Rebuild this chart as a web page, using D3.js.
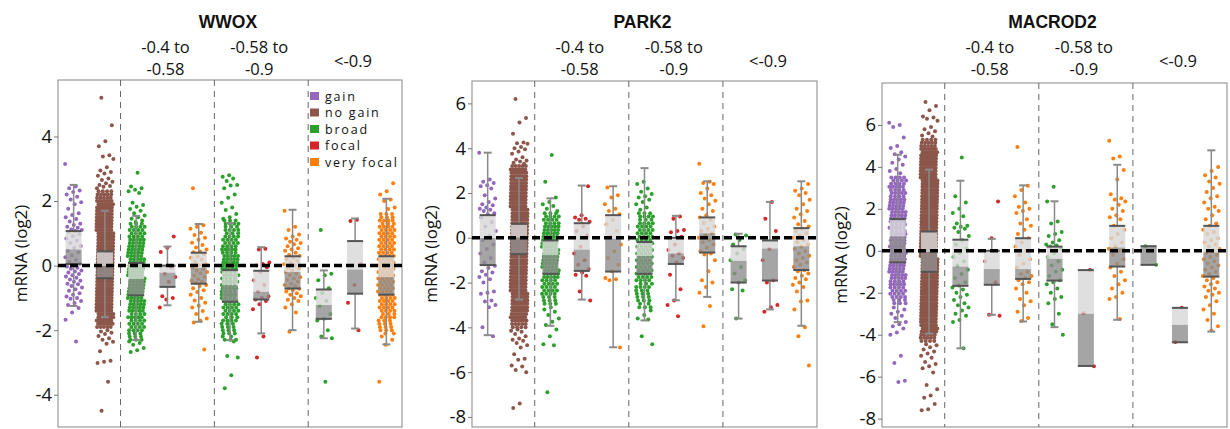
<!DOCTYPE html>
<html>
<head>
<meta charset="utf-8">
<script src="https://cdn.jsdelivr.net/npm/d3@7"></script>
<style>
  body { margin: 0; background: #fff; }
  text { font-family: "Open Sans", sans-serif; fill: #111; }
</style>
</head>
<body>
<script>
// categories along each x axis
const categories = ["gain", "no gain", "broad", "focal", "very focal", "broad", "focal", "very focal", "broad", "focal", "very focal"];
const legendLabels = ["gain", "no gain", "broad", "focal", "very focal"];
const legendColors = ["#9467bd", "#8c564b", "#2ca02c", "#d62728", "#ff7f0e"];
const groupLabels = [["-0.4 to", "-0.58"], ["-0.58 to", "-0.9"], ["<-0.9"]];
const genes = ["WWOX", "PARK2", "MACROD2"];

// y ranges and ticks
const wwoxDomain = [-5, 5.75];
const park2Domain = [-8.45, 7];
const macrod2Domain = [-8.4, 8];
const wwoxTicks = [-4, -2, 0, 2, 4];
const park2Ticks = [-8, -6, -4, -2, 0, 2, 4, 6];
const macrod2Ticks = [-8, -6, -4, -2, 0, 2, 4, 6];

// box stats: [lower whisker, q1, median, q3, upper whisker]
const wwoxBoxes = [
  [-1.25, 0.05, 0.5, 1.07, 2.5], [-1.6, -0.39, -0.02, 0.44, 1.7],
  [-2.3, -0.92, -0.42, 0.08, 1.54], [-1.23, -0.66, -0.22, 0.0, 0.59], [-1.74, -0.56, -0.07, 0.4, 1.29],
  [-2.31, -1.12, -0.61, -0.14, 1.32], [-2.1, -1.05, -0.81, -0.16, 0.57], [-2.0, -0.71, -0.2, 0.29, 1.73],
  [-2.25, -1.65, -1.22, -0.74, -0.15], [-1.95, -0.87, -0.12, 0.76, 1.46], [-2.44, -0.9, -0.36, 0.29, 2.07]
];
const park2Boxes = [
  [-4.35, -1.22, -0.01, 1.01, 3.8], [-2.76, -0.73, 0.0, 0.62, 2.67],
  [-3.93, -1.61, -0.78, -0.12, 1.76], [-2.76, -1.48, -0.53, 0.65, 2.33], [-4.89, -1.51, -0.04, 1.01, 2.3],
  [-3.69, -1.61, -0.82, -0.19, 3.11], [-2.79, -1.17, -0.7, 0.0, 0.98], [-2.64, -0.66, 0.2, 0.91, 2.52],
  [-3.61, -2.0, -1.03, -0.38, 0.18], [-3.2, -1.91, -0.48, -0.12, 1.6], [-3.93, -1.44, -0.38, 0.43, 2.52]
];
const macrod2Boxes = [
  [-3.4, -0.55, 0.68, 1.51, 4.58], [-3.95, -1.0, -0.06, 0.92, 3.87],
  [-4.65, -1.67, -0.75, 0.53, 3.34], [-3.05, -1.62, -0.87, 0.0, 0.57], [-3.37, -1.34, -0.87, 0.6, 3.12],
  [-3.64, -1.42, -0.38, 0.2, 2.36], [-5.49, -5.49, -3.0, -0.92, -0.92], [-3.29, -0.75, 0.16, 1.19, 4.1],
  [-0.67, -0.67, 0.18, 0.22, 0.22], [-4.36, -4.36, -3.53, -2.72, -2.72], [-3.85, -1.23, -0.08, 1.19, 4.79]
];

// individual sample values (log2 mRNA) per category
const wwoxPoints = [
  [3.15, 2.45, 2.4, 2.33, 2.28, 2.2, 2.13, 2.05, 1.96, 1.9, 1.76, 1.62, 1.57, 1.5, 1.44, 1.37, 1.3, 1.26, 1.2, 1.17, 1.12, 1.1, 1.07, 1.04, 0.98, 0.92, 0.84, 0.78, 0.7, 0.61, 0.55, 0.46, 0.41, 0.32, 0.26, 0.17, 0.11, 0.06, 0.02, -0.03, -0.07, -0.1, -0.15, -0.18, -0.21, -0.26, -0.3, -0.34, -0.38, -0.43, -0.47, -0.5, -0.56, -0.58, -0.63, -0.68, -0.73, -0.78, -0.86, -0.9, -0.96, -1.0, -1.03, -1.1, -1.16, -1.22, -1.31, -1.45, -1.68, -2.35],
  [5.2, 4.35, 3.85, 3.7, 3.42, 3.38, 3.3, 3.05, 2.95, 2.9, 2.85, 2.78, 2.7, 2.65, 2.6, 2.55, 2.5, 2.47, 2.44, 2.4, -2.0, -2.04, -2.08, -2.12, -2.18, -2.25, -2.3, -2.36, -2.42, -2.65, -2.95, -2.98, -3.02, -3.6, -4.5],
  [2.88, 2.45, 2.4, 2.35, 2.3, 2.25, 1.95, 1.88, 1.82, 1.75, 1.7, 1.62, 1.55, 1.5, 1.45, 1.4, 1.35, -2.35, -2.4, -2.45, -2.55, -2.62, -2.68],
  [0.9, 0.55, 0.42, -0.05, -0.25, -0.35, -0.5, -0.95, -1.0, -1.05, -1.3],
  [2.4, 1.25, 1.2, 1.14, 1.02, 0.95, 0.86, 0.8, 0.71, 0.64, 0.56, 0.5, 0.44, 0.41, 0.35, 0.28, 0.24, 0.19, 0.12, 0.05, 0.01, -0.06, -0.1, -0.16, -0.2, -0.24, -0.31, -0.35, -0.42, -0.46, -0.5, -0.54, -0.6, -0.63, -0.7, -0.76, -0.82, -0.9, -1.0, -1.08, -1.15, -1.24, -1.3, -1.41, -1.5, -1.64, -1.7, -1.76, -2.6],
  [2.8, 2.75, 2.7, 2.62, 2.5, 2.48, 2.4, 2.2, 2.1, 1.95, 1.8, 1.72, 1.6, 1.5, 1.45, -2.35, -2.8, -2.85, -3.4, -3.8],
  [0.52, 0.5, 0.1, 0.05, 0.0, -0.05, -0.2, -0.45, -0.6, -0.8, -0.95, -1.0, -1.05, -1.1, -1.2, -1.35, -2.2, -2.85],
  [1.7, 1.2, 1.1, 0.96, 0.9, 0.84, 0.8, 0.74, 0.7, 0.66, 0.6, 0.54, 0.5, 0.46, 0.4, 0.33, 0.3, 0.24, 0.2, 0.14, 0.1, 0.04, 0.0, -0.06, -0.1, -0.16, -0.2, -0.25, -0.3, -0.36, -0.4, -0.44, -0.5, -0.56, -0.6, -0.64, -0.7, -0.72, -0.76, -0.8, -0.86, -0.9, -0.95, -1.0, -1.06, -1.1, -1.2, -1.3, -1.45, -2.05],
  [1.1, -0.25, -0.3, -0.45, -0.7, -0.85, -1.0, -1.1, -1.25, -1.5, -1.65, -1.7, -2.0, -2.2, -2.25, -3.6],
  [1.42, 1.38, 0.05, -0.6, -1.15, -2.0],
  [2.55, 2.3, 2.2, 2.05, 2.0, 1.8, 1.75, -2.2, -2.3, -2.45, -3.6]
];
const park2Points = [
  [3.8, 2.6, 2.5, 2.45, 2.35, 2.3, 2.2, 1.9, 1.75, 1.6, 1.5, 1.45, 1.35, 1.3, 1.25, 1.2, 1.1, 1.05, 0.9, 0.7, 0.5, 0.3, 0.1, -0.1, -0.3, -0.5, -0.7, -0.9, -1.1, -1.25, -1.35, -1.5, -1.55, -1.65, -1.75, -1.85, -2.0, -2.4, -2.45, -2.5, -2.8, -2.85, -3.0, -3.1, -4.0, -4.4],
  [6.2, 5.35, 5.15, 4.65, 4.25, 4.22, 4.2, 4.05, 4.0, 3.95, 3.85, 3.75, 3.6, 3.5, 3.45, 3.4, 3.35, 3.3, -4.1, -4.15, -4.2, -4.3, -4.4, -4.5, -4.55, -4.6, -4.7, -4.8, -4.9, -5.2, -5.4, -5.45, -5.7, -5.75, -5.9, -6.0, -7.4, -7.6],
  [3.7, 2.5, 1.8, 1.6, 1.5, 1.42, 1.3, 1.2, -3.1, -3.2, -3.3, -3.45, -3.6, -3.75, -3.9, -4.1, -4.4, -4.75, -4.8, -6.9],
  [2.3, 1.0, 0.9, 0.85, 0.8, 0.72, 0.5, 0.3, 0.1, -0.4, -0.7, -1.0, -1.2, -1.4, -1.55, -1.65, -1.7, -2.4, -2.8],
  [2.25, 1.9, 1.8, 1.5, 1.3, 1.2, 1.05, 0.8, 0.6, 0.3, 0.05, -0.3, -0.6, -0.9, -1.2, -1.5, -1.8, -1.85, -1.9, -4.9],
  [2.5, 2.4, 2.2, 2.05, 1.95, 1.85, 1.8, 1.7, 1.6, 1.5, 1.35, 1.25, -3.25, -3.45, -3.6, -3.65, -4.4, -4.75],
  [0.95, 0.85, 0.35, 0.3, 0.25, 0.05, -0.3, -0.55, -0.7, -0.8, -0.9, -1.1, -1.65, -2.3, -2.8, -3.0, -3.5],
  [3.3, 2.5, 2.45, 2.4, 2.2, 2.0, 1.9, 1.75, 1.65, 1.5, 1.3, 1.2, 1.0, 0.9, 0.8, 0.65, 0.5, 0.4, 0.3, 0.2, 0.1, 0.0, -0.1, -0.2, -0.3, -0.45, -0.6, -0.7, -0.75, -1.0, -1.5, -1.9, -2.0, -2.2, -2.45, -3.05, -3.95],
  [0.15, 0.1, -0.1, -0.3, -0.5, -0.7, -1.0, -1.3, -1.6, -1.9, -2.0, -2.3, -2.35, -3.6],
  [1.6, 0.85, 0.3, -0.5, -1.0, -1.9, -2.0, -3.0, -3.1, -3.3],
  [2.4, 2.2, 2.1, 2.0, 1.9, 1.7, 1.5, 1.3, 1.2, 1.05, 0.9, 0.75, 0.6, 0.5, 0.4, 0.3, 0.2, 0.1, 0.0, -0.1, -0.2, -0.3, -0.4, -0.5, -0.6, -0.7, -0.8, -0.9, -1.0, -1.1, -1.2, -1.3, -1.45, -1.5, -1.6, -1.7, -1.8, -1.85, -2.0, -2.1, -2.2, -2.4, -2.8, -2.85, -3.2, -4.0, -4.4, -5.7]
];
const macrod2Points = [
  [6.1, 6.0, 5.9, 5.4, 5.0, 4.9, 4.7, 4.6, 4.5, 4.35, 4.2, 4.1, 3.9, 3.8, 3.7, -2.7, -2.8, -2.9, -3.0, -3.1, -3.2, -3.4, -3.5, -3.6, -3.7, -3.9, -4.0, -5.0, -5.35, -6.2, -6.25],
  [7.1, 6.9, 6.7, 6.4, 6.35, 6.3, 6.2, 5.9, 5.8, 5.7, 5.6, 5.5, 5.45, -4.45, -4.5, -4.6, -4.7, -4.8, -4.9, -5.0, -5.1, -5.3, -5.4, -5.5, -5.6, -5.8, -6.4, -6.6, -6.9, -7.0, -7.3, -7.55, -7.6],
  [4.45, 2.6, 2.3, 2.0, 1.8, 1.65, 1.3, 1.2, 1.15, 1.1, 1.05, 0.9, 0.7, 0.5, 0.3, 0.1, -0.1, -0.3, -0.5, -0.7, -0.9, -1.1, -1.3, -1.5, -1.65, -1.75, -1.85, -2.0, -2.1, -2.2, -2.35, -2.5, -2.6, -2.7, -2.85, -3.0, -3.1, -3.3, -3.4, -4.65],
  [2.35, 0.6, -0.5, -1.5, -3.05, -3.1],
  [4.95, 3.1, 2.9, 2.6, 2.3, 2.1, 2.0, 1.9, 1.8, 1.5, 1.3, 1.2, 1.0, 0.8, 0.6, 0.4, 0.2, 0.0, -0.2, -0.4, -0.6, -0.8, -1.0, -1.1, -1.2, -1.3, -1.4, -1.5, -1.6, -1.8, -2.0, -2.3, -2.4, -2.6, -2.9, -3.2, -3.35],
  [3.05, 2.35, 1.4, 1.3, 0.9, 0.8, 0.7, 0.5, 0.4, 0.3, 0.25, 0.2, 0.1, -0.1, -0.3, -0.5, -0.7, -0.9, -1.0, -1.2, -1.4, -1.5, -1.6, -1.8, -2.0, -2.2, -2.3, -2.5, -3.0, -3.5, -4.0],
  [-0.92, -2.98, -5.5],
  [5.25, 4.5, 4.4, 3.85, 3.4, 2.7, 2.5, 2.45, 2.35, 2.2, 2.0, 1.9, 1.7, 1.6, 1.5, 1.2, 1.0, 0.8, 0.6, 0.4, 0.2, 0.1, 0.0, -0.2, -0.4, -0.6, -0.8, -1.0, -1.2, -1.4, -1.6, -1.8, -2.0, -2.2, -2.3, -3.25],
  [0.22, -0.67],
  [-2.72, -4.35],
  [4.0, 3.8, 3.6, 3.5, 3.3, 3.2, 3.0, 2.8, 2.6, 2.5, 2.3, 2.1, 2.0, 1.9, 1.7, 1.5, 1.3, 1.2, 1.0, 0.9, 0.8, 0.6, 0.5, 0.4, 0.3, 0.2, 0.1, 0.0, -0.1, -0.2, -0.3, -0.4, -0.5, -0.6, -0.7, -0.8, -0.9, -1.0, -1.1, -1.2, -1.3, -1.4, -1.5, -1.6, -1.7, -1.8, -1.9, -2.0, -2.1, -2.2, -2.4, -2.6, -2.8, -3.0, -3.3, -3.6, -3.8]
];

// dense cores, read as [value, number of samples at that level]
const wwoxDense = [
  [],
  [[2.3,4],[2.2,5],[2.1,5],[2.0,7],[1.9,7],[1.8,8],[1.7,8],[1.6,8],[1.5,8],[1.4,8],[1.3,8],[1.2,8],[1.1,8],[1.0,8],[0.9,8],[0.8,8],[0.7,8],[0.6,8],[0.5,8],[0.4,8],[0.3,8],[0.2,8],[0.1,8],[0.0,8],[-0.1,8],[-0.2,8],[-0.3,8],[-0.4,8],[-0.5,8],[-0.6,8],[-0.7,8],[-0.8,8],[-0.9,8],[-1.0,8],[-1.1,8],[-1.2,8],[-1.3,8],[-1.4,8],[-1.5,8],[-1.6,8],[-1.7,7],[-1.8,7],[-1.9,5]],
  [[1.3,3],[1.2,4],[1.1,4],[1.0,4],[0.9,4],[0.8,5],[0.7,5],[0.6,5],[0.5,5],[0.4,5],[0.3,5],[0.2,5],[0.1,5],[0.0,5],[-0.1,5],[-0.2,5],[-0.3,5],[-0.4,5],[-0.5,5],[-0.6,5],[-0.7,5],[-0.8,5],[-0.9,5],[-1.0,5],[-1.1,5],[-1.2,5],[-1.3,5],[-1.4,5],[-1.5,4],[-1.6,5],[-1.7,4],[-1.8,4],[-1.9,4],[-2.0,4],[-2.1,3],[-2.2,3],[-2.3,3]],
  [], [],
  [[1.4,3],[1.3,4],[1.2,3],[1.1,4],[1.0,3],[0.9,4],[0.8,4],[0.7,4],[0.6,4],[0.5,5],[0.4,4],[0.3,5],[0.2,5],[0.1,5],[0.0,5],[-0.1,5],[-0.2,4],[-0.3,5],[-0.4,4],[-0.5,5],[-0.6,4],[-0.7,5],[-0.8,4],[-0.9,5],[-1.0,4],[-1.1,4],[-1.2,4],[-1.3,4],[-1.4,4],[-1.5,4],[-1.6,3],[-1.7,4],[-1.8,3],[-1.9,3],[-2.0,3],[-2.1,3],[-2.2,2],[-2.3,3]],
  [], [], [], [],
  [[1.6,3],[1.5,3],[1.4,4],[1.3,3],[1.2,4],[1.1,4],[1.0,4],[0.9,4],[0.8,4],[0.7,4],[0.6,4],[0.5,4],[0.4,4],[0.3,4],[0.2,4],[0.1,4],[0.0,4],[-0.1,4],[-0.2,4],[-0.3,4],[-0.4,4],[-0.5,4],[-0.6,4],[-0.7,4],[-0.8,4],[-0.9,4],[-1.0,4],[-1.1,4],[-1.2,4],[-1.3,4],[-1.4,4],[-1.5,3],[-1.6,4],[-1.7,3],[-1.8,3],[-1.9,3],[-2.0,3],[-2.1,2]]
];
const park2Dense = [
  [],
  [[3.2,5],[3.05,7],[2.9,8],[2.75,8],[2.6,8],[2.45,8],[2.3,8],[2.15,8],[2.0,8],[1.85,8],[1.7,8],[1.55,8],[1.4,8],[1.25,8],[1.1,8],[0.95,8],[0.8,8],[0.65,8],[0.5,8],[0.35,8],[0.2,8],[0.05,8],[-0.1,8],[-0.25,8],[-0.4,8],[-0.55,8],[-0.7,8],[-0.85,8],[-1.0,8],[-1.15,8],[-1.3,8],[-1.45,8],[-1.6,8],[-1.75,8],[-1.9,8],[-2.05,8],[-2.2,8],[-2.35,8],[-2.5,8],[-2.65,8],[-2.8,8],[-2.95,8],[-3.1,8],[-3.25,8],[-3.4,7],[-3.55,7],[-3.7,6],[-3.85,5],[-4.0,4]],
  [[1.1,3],[0.95,4],[0.8,4],[0.65,4],[0.5,5],[0.35,5],[0.2,5],[0.05,5],[-0.1,5],[-0.25,5],[-0.4,5],[-0.55,5],[-0.7,5],[-0.85,5],[-1.0,5],[-1.15,5],[-1.3,5],[-1.45,5],[-1.6,5],[-1.75,5],[-1.9,4],[-2.05,4],[-2.2,4],[-2.35,4],[-2.5,4],[-2.65,3],[-2.8,3],[-2.95,3]],
  [], [],
  [[1.1,3],[0.95,4],[0.8,3],[0.65,4],[0.5,4],[0.35,4],[0.2,4],[0.05,4],[-0.1,4],[-0.25,4],[-0.4,4],[-0.55,4],[-0.7,4],[-0.85,4],[-1.0,4],[-1.15,4],[-1.3,4],[-1.45,4],[-1.6,4],[-1.75,4],[-1.9,4],[-2.05,3],[-2.2,4],[-2.35,3],[-2.5,3],[-2.65,3],[-2.8,3],[-2.95,2],[-3.1,3]],
  [], [], [], [], []
];
const macrod2Dense = [
  [[3.5,4],[3.35,4],[3.2,4],[3.05,5],[2.9,4],[2.75,5],[2.6,4],[2.45,5],[2.3,5],[2.15,5],[2.0,5],[1.85,5],[1.7,5],[1.55,5],[1.4,5],[1.25,4],[1.1,5],[0.95,4],[0.8,5],[0.65,4],[0.5,5],[0.35,4],[0.2,5],[0.05,4],[-0.1,5],[-0.25,4],[-0.4,5],[-0.55,5],[-0.7,5],[-0.85,5],[-1.0,5],[-1.15,5],[-1.3,5],[-1.45,4],[-1.6,5],[-1.75,4],[-1.9,4],[-2.05,4],[-2.2,4],[-2.35,3],[-2.5,3]],
  [[5.3,4],[5.15,5],[5.0,5],[4.85,7],[4.7,7],[4.55,8],[4.4,8],[4.25,8],[4.1,8],[3.95,8],[3.8,8],[3.65,8],[3.5,8],[3.35,8],[3.2,8],[3.05,8],[2.9,8],[2.75,8],[2.6,8],[2.45,8],[2.3,8],[2.15,8],[2.0,8],[1.85,8],[1.7,8],[1.55,8],[1.4,8],[1.25,8],[1.1,8],[0.95,8],[0.8,8],[0.65,8],[0.5,8],[0.35,8],[0.2,8],[0.05,8],[-0.1,8],[-0.25,8],[-0.4,8],[-0.55,8],[-0.7,8],[-0.85,8],[-1.0,8],[-1.15,8],[-1.3,8],[-1.45,8],[-1.6,8],[-1.75,8],[-1.9,8],[-2.05,8],[-2.2,8],[-2.35,8],[-2.5,8],[-2.65,8],[-2.8,8],[-2.95,8],[-3.1,8],[-3.25,8],[-3.4,8],[-3.55,7],[-3.7,7],[-3.85,7],[-4.0,5],[-4.15,5],[-4.3,4]],
  [], [], [], [], [], [], [], [], []
];

// ---- layout ----
const W = 1230, H = 429;
const bottom = 427;
const panels = [
  { gene: genes[0], left: 58, right: 402, top: 80, yLabelX: 21, domain: wwoxDomain, ticks: wwoxTicks, boxes: wwoxBoxes, points: wwoxPoints, dense: wwoxDense, legend: true },
  { gene: genes[1], left: 472, right: 817, top: 81, yLabelX: 431, domain: park2Domain, ticks: park2Ticks, boxes: park2Boxes, points: park2Points, dense: park2Dense },
  { gene: genes[2], left: 882, right: 1227, top: 83, yLabelX: 841, domain: macrod2Domain, ticks: macrod2Ticks, boxes: macrod2Boxes, points: macrod2Points, dense: macrod2Dense }
];
const catColor = i => legendColors[i < 2 ? i : 2 + ((i - 2) % 3)];

const svg = d3.select("body").append("svg")
  .attr("width", W)
  .attr("height", H);

panels.forEach(p => {
  const x = d3.scaleBand().domain(d3.range(categories.length)).range([p.left, p.right]);
  const cx = i => x(i) + x.bandwidth() / 2;
  const y = d3.scaleLinear().domain(p.domain).range([bottom, p.top]);
  const jw = 8.5, boxW = 16, capW = 8;
  const g = svg.append("g");

  // frame
  g.append("rect")
    .attr("x", p.left).attr("y", p.top)
    .attr("width", p.right - p.left).attr("height", bottom - p.top)
    .attr("fill", "none").attr("stroke", "#9a9a9a").attr("stroke-width", 1.2);

  // group separators
  g.selectAll("line.sep").data([2, 5, 8]).join("line")
    .attr("class", "sep")
    .attr("x1", d => x(d)).attr("x2", d => x(d))
    .attr("y1", p.top).attr("y2", bottom)
    .attr("stroke", "#666").attr("stroke-width", 1)
    .attr("stroke-dasharray", "6,5");

  // points
  const dots = [];
  p.points.forEach((vals, ci) => vals.forEach((v, i) => {
    dots.push({ ci, v, dx: ((i * 0.618034 + ci * 0.29) % 1) * 2 - 1 });
  }));
  p.dense.forEach((rows, ci) => rows.forEach(([v, n], ri) => {
    for (let k = 0; k < n; k++) {
      dots.push({ ci, v, dx: (((k + 0.5) / n + ri * 0.37) % 1) * 2 - 1 });
    }
  }));
  g.append("g").selectAll("circle").data(dots).join("circle")
    .attr("cx", d => cx(d.ci) + d.dx * jw)
    .attr("cy", d => y(d.v))
    .attr("r", 2)
    .attr("fill", d => catColor(d.ci));

  // boxes
  const bg = g.append("g");
  p.boxes.forEach(([lo, q1, med, q3, hi], ci) => {
    const c = cx(ci);
    if (hi > q3) {
      bg.append("line").attr("x1", c).attr("x2", c).attr("y1", y(q3)).attr("y2", y(hi))
        .attr("stroke", "#8a8a8a").attr("stroke-width", 1.5);
      bg.append("line").attr("x1", c - capW / 2).attr("x2", c + capW / 2).attr("y1", y(hi)).attr("y2", y(hi))
        .attr("stroke", "#8a8a8a").attr("stroke-width", 2);
    }
    if (lo < q1) {
      bg.append("line").attr("x1", c).attr("x2", c).attr("y1", y(q1)).attr("y2", y(lo))
        .attr("stroke", "#8a8a8a").attr("stroke-width", 1.5);
      bg.append("line").attr("x1", c - capW / 2).attr("x2", c + capW / 2).attr("y1", y(lo)).attr("y2", y(lo))
        .attr("stroke", "#8a8a8a").attr("stroke-width", 2);
    }
    bg.append("rect").attr("x", c - boxW / 2).attr("y", y(q3))
      .attr("width", boxW).attr("height", Math.max(0, y(med) - y(q3)))
      .attr("fill", "#d8d8d8").attr("fill-opacity", 0.82);
    bg.append("rect").attr("x", c - boxW / 2).attr("y", y(med))
      .attr("width", boxW).attr("height", Math.max(0, y(q1) - y(med)))
      .attr("fill", "#8e8e8e").attr("fill-opacity", 0.8);
    [q3, q1].forEach(v => {
      bg.append("line").attr("x1", c - boxW / 2).attr("x2", c + boxW / 2)
        .attr("y1", y(v)).attr("y2", y(v))
        .attr("stroke", "#555").attr("stroke-width", 2);
    });
  });

  // zero line
  g.append("line")
    .attr("x1", p.left).attr("x2", p.right)
    .attr("y1", y(0)).attr("y2", y(0))
    .attr("stroke", "#000").attr("stroke-width", 3.5)
    .attr("stroke-dasharray", "8,4");

  // y axis
  const axis = g.append("g")
    .attr("transform", "translate(" + p.left + ",0)")
    .call(d3.axisLeft(y).tickValues(p.ticks).tickSize(4).tickPadding(2).tickFormat(d => String(d)));
  axis.select(".domain").remove();
  axis.selectAll("line").attr("stroke", "#777");
  axis.selectAll("text")
    .style("font-family", "'Open Sans', sans-serif")
    .style("font-size", "18.5px")
    .attr("fill", "#111");

  g.append("text")
    .attr("transform", "translate(" + p.yLabelX + "," + ((p.top + bottom) / 2) + ") rotate(-90)")
    .attr("text-anchor", "middle")
    .attr("dy", "0.35em")
    .style("font-size", "17px")
    .text("mRNA (log2)");

  // title
  g.append("text")
    .attr("x", (p.left + p.right) / 2 - 2).attr("y", 27.5)
    .attr("text-anchor", "middle")
    .style("font-family", "'Liberation Sans', Arial, sans-serif")
    .style("font-weight", "bold")
    .style("font-size", "17.5px")
    .text(p.gene);

  // group labels
  [3, 6, 9].forEach((ci, gi) => {
    const lines = groupLabels[gi];
    const t = g.append("text").attr("text-anchor", "middle").style("font-size", "16.5px");
    if (lines.length === 2) {
      t.append("tspan").attr("x", cx(ci) - 2).attr("y", 53).text(lines[0]);
      t.append("tspan").attr("x", cx(ci) - 2).attr("y", 75).text(lines[1]);
    } else {
      t.append("tspan").attr("x", cx(ci) - 2).attr("y", 66.5).text(lines[0]);
    }
  });

  // legend
  if (p.legend) {
    const lg = g.append("g");
    legendLabels.forEach((lab, i) => {
      const yy = 96 + i * 16.5;
      lg.append("rect").attr("x", 310).attr("y", yy - 4).attr("width", 9).attr("height", 8)
        .attr("fill", legendColors[i]);
      lg.append("text").attr("x", 325).attr("y", yy + 4.5)
        .style("font-size", "12.5px")
        .style("letter-spacing", "1.8px")
        .text(lab);
    });
  }
});
</script>
</body>
</html>
